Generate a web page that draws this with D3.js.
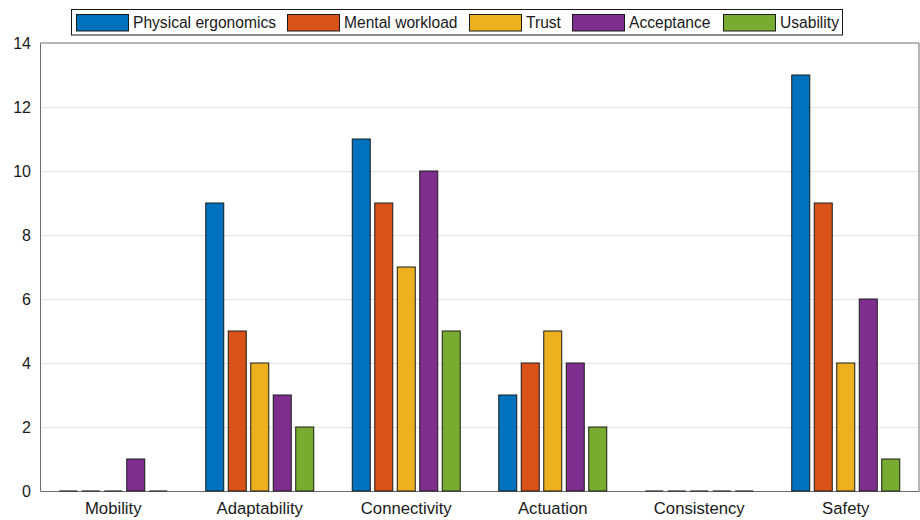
<!DOCTYPE html>
<html><head><meta charset="utf-8">
<script src="https://cdn.jsdelivr.net/npm/d3@7"></script>
<style>body{margin:0;background:#fff}svg{display:block;font-family:"Liberation Sans",Arial,sans-serif}</style>
</head><body><svg id="c" width="920" height="520"></svg>
<script>
const categories = ["Mobility","Adaptability","Connectivity","Actuation","Consistency","Safety"];
const seriesNames = ["Physical ergonomics","Mental workload","Trust","Acceptance","Usability"];
const physical = [0,9,11,3,0,13];
const mental = [0,5,9,4,0,9];
const trust = [0,4,7,5,0,4];
const acceptance = [1,3,10,4,0,6];
const usability = [0,2,5,2,0,1];
const yTicks = [0,2,4,6,8,10,12,14];
const colors = ["#0072BD","#D95319","#EDB120","#7E2F8E","#77AC30"];
const series = [physical, mental, trust, acceptance, usability];

const svg = d3.select("#c");
const m = {l:40, r:919, t:43, b:491};
const x = d3.scaleBand().domain(categories).range([m.l, m.r]).padding(0);
const xi = d3.scaleBand().domain(seriesNames).range([0, 112.5]).paddingInner(0.2).paddingOuter(0.1);
const y = d3.scaleLinear().domain([0,14]).range([m.b, m.t]);

// grid
svg.append("g").selectAll("line").data(yTicks.slice(1,-1)).join("line")
  .attr("x1", m.l).attr("x2", m.r).attr("y1", d=>y(d)+0.5).attr("y2", d=>y(d)+0.5)
  .attr("stroke", "#e3e3e3").attr("stroke-width", 1);

// axes
const ya = svg.append("g").attr("transform", `translate(${m.l},0)`)
  .call(d3.axisLeft(y).tickValues(yTicks).tickSize(0).tickPadding(9).tickFormat(d3.format("d")));
ya.select(".domain").attr("stroke", "#6e6e6e");
ya.selectAll("text").attr("font-size", 16).attr("fill", "#1a1a1a").style("font-family","Liberation Sans, Arial");
const xa = svg.append("g").attr("transform", `translate(0,${m.b})`)
  .call(d3.axisBottom(x).tickSize(0).tickPadding(11));
xa.select(".domain").attr("stroke", "#6e6e6e");
xa.selectAll("text").attr("font-size", 16.7).attr("fill", "#1a1a1a").style("font-family","Liberation Sans, Arial");
// box top/right
svg.append("line").attr("x1", m.l).attr("x2", m.r).attr("y1", m.t).attr("y2", m.t).attr("stroke", "#6e6e6e");
svg.append("line").attr("x1", m.r).attr("x2", m.r).attr("y1", m.t).attr("y2", m.b).attr("stroke", "#6e6e6e");

// bars
const groups = svg.append("g").selectAll("g").data(categories).join("g")
  .attr("transform", c => `translate(${x(c) + (x.bandwidth()-112.5)/2},0)`);
const barData = (c,i) => seriesNames.map((s,j)=>({s, j, v: series[j][i]}));
groups.selectAll("rect").data((c,i) => barData(c,i).filter(d => d.v > 0)).join("rect")
  .attr("x", d => xi(d.s)).attr("width", xi.bandwidth())
  .attr("y", d => y(d.v)).attr("height", d => y(0)-y(d.v))
  .attr("fill", d => colors[d.j]).attr("stroke", "#1a1a1a").attr("stroke-width", 1);
groups.selectAll("line.zero").data((c,i) => barData(c,i).filter(d => d.v === 0)).join("line")
  .attr("class","zero")
  .attr("x1", d => xi(d.s)).attr("x2", d => xi(d.s) + xi.bandwidth())
  .attr("y1", y(0)).attr("y2", y(0))
  .attr("stroke", "#2a2a2a").attr("stroke-width", 1.2);

// legend
const leg = svg.append("g");
leg.append("rect").attr("x", 71.5).attr("y", 9.5).attr("width", 771).attr("height", 25.5)
  .attr("fill", "#fff").attr("stroke", "#1a1a1a");
const legX = [76, 287, 469, 572, 723];
seriesNames.forEach((s,j) => {
  const g = leg.append("g").attr("transform", `translate(${legX[j]},0)`);
  g.append("rect").attr("x", 0.5).attr("y", 14.5).attr("width", 52).attr("height", 16.5)
    .attr("fill", colors[j]).attr("stroke", "#1a1a1a");
  g.append("text").attr("x", 57).attr("y", 28).attr("font-size", 15.6).attr("fill", "#1a1a1a").text(s);
});
</script></body></html>
